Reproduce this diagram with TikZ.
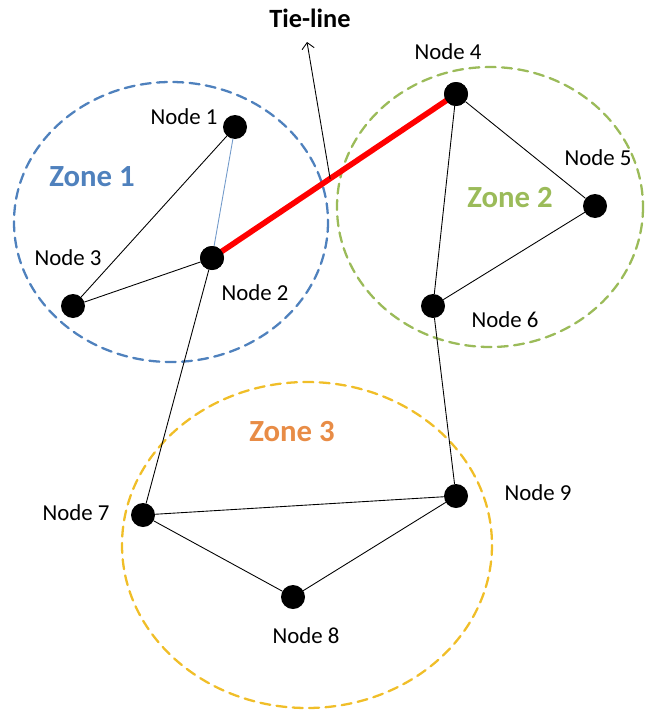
\documentclass[tikz,border=0pt]{standalone}
\usepackage{fontspec}
\setmainfont{Carlito}
\usetikzlibrary{calc,arrows.meta}
\definecolor{zoneblue}{RGB}{79,129,189}
\definecolor{zonegreen}{RGB}{155,187,89}
\definecolor{zoneyellow}{RGB}{240,190,40}
\definecolor{zoneorange}{RGB}{232,140,70}
\tikzset{
  bus/.style={circle, fill=black, inner sep=0pt, minimum size=4.8mm},
  zone/.style={dash pattern=on 5.7pt off 3.6pt, line width=1.3pt},
  zonelabel/.style={font=\fontsize{17.5}{20}\selectfont\bfseries},
  link/.style={draw, line width=0.5pt}
}
\begin{document}
\begin{tikzpicture}[x=0.2mm, y=-0.2mm, font=\fontsize{13}{15}\selectfont, line join=round, line cap=round]
  \useasboundingbox (0,0) rectangle (645,711);
  % zones
  \draw[zone, zoneblue] (171,222) ellipse [x radius=157, y radius=140];
  \draw[zone, zonegreen] (490,207) ellipse [x radius=153, y radius=140];
  \draw[zone, zoneyellow] (307,545) ellipse [x radius=185, y radius=163];
  \node[zonelabel, text=zoneblue] (z1) at (92,177) {Zone 1};
  \node[zonelabel, text=zonegreen] (z2) at (510,198) {Zone 2};
  \node[zonelabel, text=zoneorange] (z3) at (292,432) {Zone 3};
  % buses
  \foreach \n/\x/\y in {1/235/127, 2/212/258, 3/73/306, 4/456/94, 5/595/206, 6/433/306, 7/143/515, 8/293/597, 9/456/496}
    \node[bus] (n\n) at (\x,\y) {};
  \foreach \n/\x/\y in {1/184/117, 2/255/293, 3/68/258, 4/448/52, 5/598/158, 6/505/320, 7/76/513, 8/306/636, 9/538/493}
    \node (l\n) at (\x,\y) {Node \n};
  % lines
  \draw[link] (n1)--(n3) (n2)--(n3) (n4)--(n5) (n4)--(n6) (n5)--(n6)
              (n2)--(n7) (n6)--(n9) (n7)--(n9) (n7)--(n8) (n8)--(n9);
  \draw[link, zoneblue!80] (n1)--(n2);
  \draw[red, line width=3.2pt, line cap=butt] (n2.center)--(n4.center);
  \fill (n2) circle (12) (n4) circle (12);
  % tie-line
  \node[font=\fontsize{15}{18}\selectfont\bfseries] (tie) at (310,18) {Tie-line};
  \coordinate (tiept) at ($(n2)!0.484!(n4)$);
  \draw[-{Straight Barb[length=3.5pt,width=7pt]}, line width=0.5pt] (tiept) -- (307,42);
\end{tikzpicture}
\end{document}
